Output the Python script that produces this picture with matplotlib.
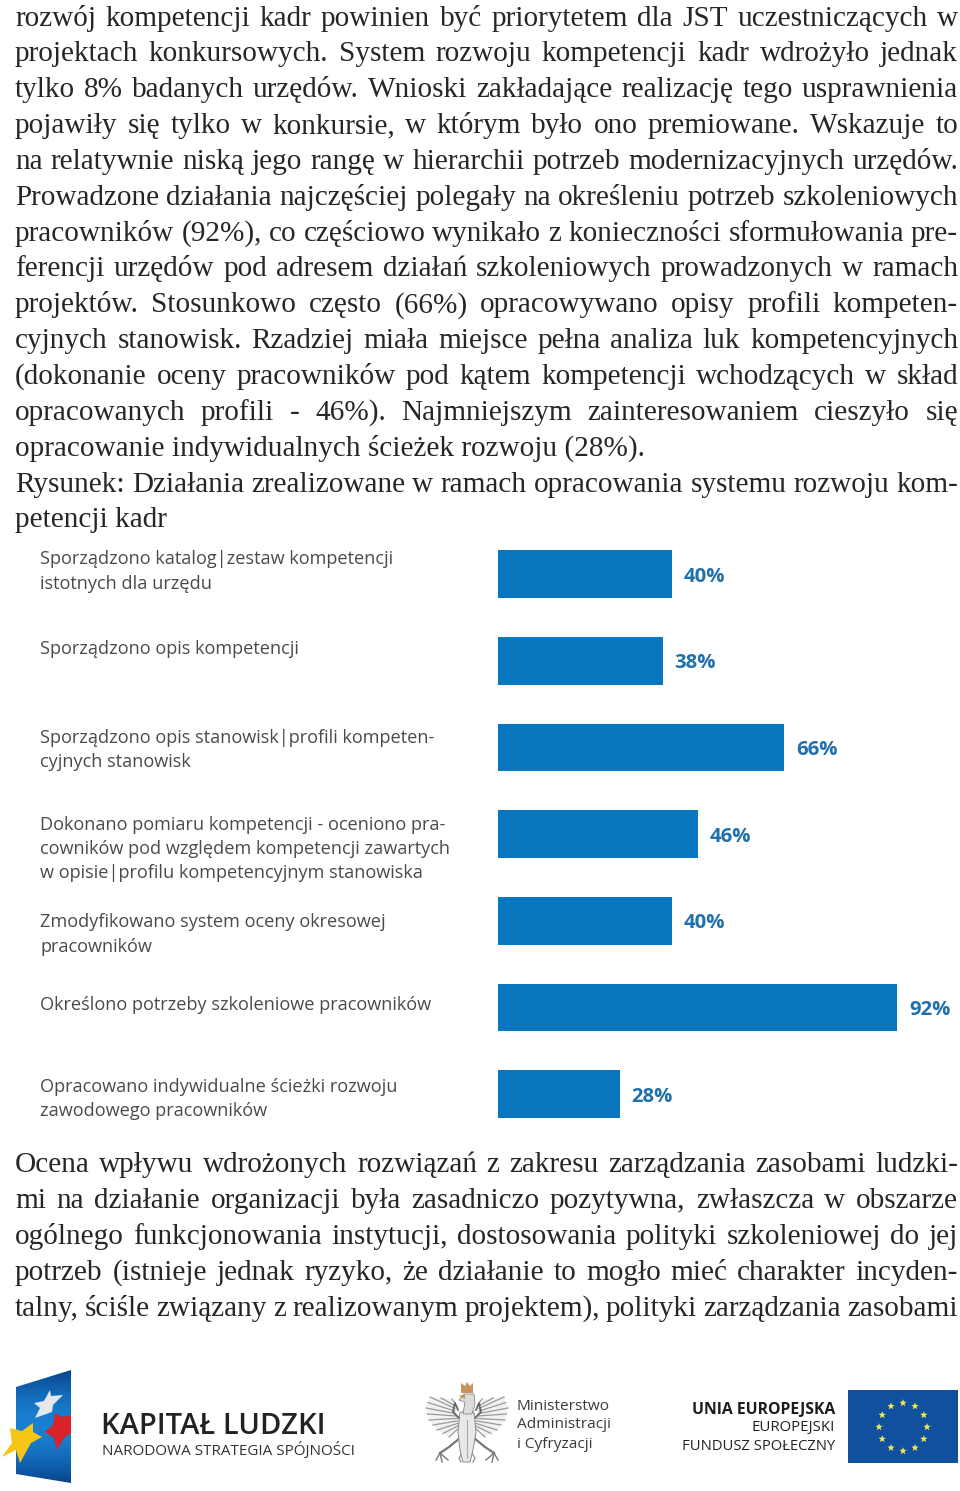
import numpy as np
import matplotlib
matplotlib.use("Agg")
import matplotlib.pyplot as plt
from matplotlib.font_manager import FontProperties
from matplotlib.patches import Polygon, Rectangle

W, H = 960, 1491
DPI = 100

# ---- chart data ----
values = [40, 38, 66, 46, 40, 92, 28]
value_labels = ["40%", "38%", "66%", "46%", "40%", "92%", "28%"]
category_lines = [
    ["Sporządzono katalog|zestaw kompetencji", "istotnych dla urzędu"],
    ["Sporządzono opis kompetencji"],
    ["Sporządzono opis stanowisk|profili kompeten-", "cyjnych stanowisk"],
    ["Dokonano pomiaru kompetencji - oceniono pra-",
     "cowników pod względem kompetencji zawartych",
     "w opisie|profilu kompetencyjnym stanowiska"],
    ["Zmodyfikowano system oceny okresowej", "pracowników"],
    ["Określono potrzeby szkoleniowe pracowników"],
    ["Opracowano indywidualne ścieżki rozwoju", "zawodowego pracowników"],
]
category_line_y = [[559, 584], [649], [738, 762], [825, 849, 873], [922, 947], [1005], [1087, 1111]]

# ---- body text: (line, justified) ----
top_text = [
    ("rozwój kompetencji kadr powinien być priorytetem dla JST uczestniczących w", True),
    ("projektach konkursowych. System rozwoju kompetencji kadr wdrożyło jednak", True),
    ("tylko 8% badanych urzędów. Wnioski zakładające realizację tego usprawnienia", True),
    ("pojawiły się tylko w konkursie, w którym było ono premiowane. Wskazuje to", True),
    ("na relatywnie niską jego rangę w hierarchii potrzeb modernizacyjnych urzędów.", True),
    ("Prowadzone działania najczęściej polegały na określeniu potrzeb szkoleniowych", True),
    ("pracowników (92%), co częściowo wynikało z konieczności sformułowania pre-", True),
    ("ferencji urzędów pod adresem działań szkoleniowych prowadzonych w ramach", True),
    ("projektów. Stosunkowo często (66%) opracowywano opisy profili kompeten-", True),
    ("cyjnych stanowisk. Rzadziej miała miejsce pełna analiza luk kompetencyjnych", True),
    ("(dokonanie oceny pracowników pod kątem kompetencji wchodzących w skład", True),
    ("opracowanych profili - 46%). Najmniejszym zainteresowaniem cieszyło się", True),
    ("opracowanie indywidualnych ścieżek rozwoju (28%).", False),
    ("Rysunek: Działania zrealizowane w ramach opracowania systemu rozwoju kom-", True),
    ("petencji kadr", False),
]
bottom_text = [
    ("Ocena wpływu wdrożonych rozwiązań z zakresu zarządzania zasobami ludzki-", True),
    ("mi na działanie organizacji była zasadniczo pozytywna, zwłaszcza w obszarze", True),
    ("ogólnego funkcjonowania instytucji, dostosowania polityki szkoleniowej do jej", True),
    ("potrzeb (istnieje jednak ryzyko, że działanie to mogło mieć charakter incyden-", True),
    ("talny, ściśle związany z realizowanym projektem), polityki zarządzania zasobami", True),
]

fig = plt.figure(figsize=(W / DPI, H / DPI), dpi=DPI, facecolor="white")
page = fig.add_axes([0, 0, 1, 1])
page.set_xlim(0, W)
page.set_ylim(H, 0)
page.axis("off")

renderer = fig.canvas.get_renderer()
body_fp = FontProperties(family="Liberation Serif", size=21.1)
BODY_C = "#262626"


def text_w(s):
    return renderer.get_text_width_height_descent(s, body_fp, False)[0]


def draw_line(s, y, justified, x0=15, x1=958):
    if not justified:
        page.text(x0, y, s, fontproperties=body_fp, color=BODY_C, va="baseline", ha="left")
        return
    words = s.split(" ")
    widths = [text_w(w) for w in words]
    gap = (x1 - x0 - sum(widths)) / (len(words) - 1)
    x = x0
    for w, wd in zip(words, widths):
        page.text(x, y, w, fontproperties=body_fp, color=BODY_C, va="baseline", ha="left")
        x += wd + gap


for i, (s, j) in enumerate(top_text):
    draw_line(s, 25.5 + i * 35.85, j)
for i, (s, j) in enumerate(bottom_text):
    draw_line(s, 1171.5 + i * 36, j)

# ---- bar chart ----
spacing = (1094 - 574) / 6
top = 574 - spacing / 2
bottom = 1094 + spacing / 2
ax = fig.add_axes([498 / W, 1 - bottom / H, 434 / W, (bottom - top) / H])
ax.set_xlim(0, 100)
ax.set_ylim(6.5, -0.5)
ax.axis("off")
ypos = np.arange(len(values))
ax.barh(ypos, values, height=0.55, color="#0877bf")
for y, v, lab in zip(ypos, values, value_labels):
    ax.text(v + 2.7, y + 0.03, lab, color="#1f70ad", fontsize=14.6, fontweight="bold",
            family="Open Sans", va="center", ha="left")

for lines, ys in zip(category_lines, category_line_y):
    for s, y in zip(lines, ys):
        page.text(40, y, s, family="Open Sans", fontsize=13.05, color="#4a4a4a",
                  va="center", ha="left")

# ---- Kapitał Ludzki logo ----
flag = Polygon([(16, 1387), (71, 1370), (71, 1483), (16, 1474)], closed=True, fc="none", ec="none")
page.add_patch(flag)
t = np.linspace(0, 1, 100)
c0, c1 = np.array([0.03, 0.27, 0.55]), np.array([0.10, 0.50, 0.82])
img = (c0 + (c1 - c0) * np.sin(t * np.pi)[:, None]).reshape(100, 1, 3)
im = page.imshow(img, extent=(16, 71, 1483, 1370), aspect="auto", zorder=1)
im.set_clip_path(flag)
page.set_xlim(0, W)
page.set_ylim(H, 0)

page.add_patch(Polygon([(50, 1390), (51, 1396), (63, 1395), (53, 1405), (52, 1412), (35, 1418),
                        (40, 1408), (34, 1403), (44, 1401)],
                       closed=True, fc="#e4e8ee", ec="none", zorder=3))
page.add_patch(Polygon([(55, 1413), (62, 1417), (71, 1415), (71, 1433), (64, 1438), (57, 1450),
                        (54, 1438), (45, 1432), (53, 1425)],
                       closed=True, fc="#d8232a", ec="none", zorder=3))
page.add_patch(Polygon([(10, 1428), (22, 1431), (33, 1423), (33, 1432), (42, 1437), (31, 1443),
                        (20, 1463), (16, 1450), (2, 1457), (12, 1443)],
                       closed=True, fc="#f6c515", ec="none", zorder=4))

page.text(101, 1426, "KAPITAŁ LUDZKI", family="Open Sans", fontweight="semibold",
          fontsize=21, color="#222222", va="center", ha="left")
page.text(102, 1450, "NARODOWA STRATEGIA SPÓJNOŚCI", family="Open Sans", fontsize=11,
          color="#333333", va="center", ha="left")

# ---- eagle (simple emblem drawing) ----
eagle_line = "#9a9a9a"
outer = np.array([(-15, 1399), (-37, 1397), (-41, 1408), (-38, 1420), (-30, 1430), (-18, 1437)], float)
inner = np.array([(-12, 1403), (-12, 1412), (-9, 1420), (-8, 1428)], float)
par_o = np.linspace(0, 1, len(outer))
par_i = np.linspace(0, 1, len(inner))
for side in (-1, 1):
    sx = lambda v: 467 - side * np.asarray(v)
    page.add_patch(Polygon(np.c_[sx(np.r_[outer[:, 0], inner[::-1, 0]]), np.r_[outer[:, 1], inner[::-1, 1]]],
                           closed=True, fc="#f2f2f2", ec="none", zorder=2))
    for u in np.linspace(0, 1, 11):
        xo, yo = np.interp(u, par_o, outer[:, 0]), np.interp(u, par_o, outer[:, 1])
        xi, yi = np.interp(u, par_i, inner[:, 0]), np.interp(u, par_i, inner[:, 1])
        page.plot(sx([xi, xo]), [yi, yo], color=eagle_line, lw=0.9, zorder=3)
    page.plot(sx([-6, -14, -12, -9]), [1420, 1412, 1403, 1410], color="#666666", lw=1.3, zorder=3)
    # leg and claws
    page.plot(sx([-7, -18, -27]), [1438, 1447, 1453], color="#777777", lw=1.6, zorder=3)
    for dx, dy in [(-4, 7), (2, 9), (8, 7)]:
        page.plot(sx([-27, -27 + dx]), [1453, 1453 + dy], color="#777777", lw=1.0, zorder=3)
    page.plot(sx([-3, -8, -6]), [1450, 1458, 1462], color="#999999", lw=1.0, zorder=3)
page.add_patch(Polygon([(460, 1412), (474, 1412), (476, 1432), (473, 1450), (470, 1462), (463, 1462), (460, 1450), (458, 1432)],
                       closed=True, fc="#e9e9e9", ec="#8a8a8a", lw=0.7, zorder=4))
page.plot([467, 467], [1420, 1458], color="#aaaaaa", lw=0.8, zorder=5)
page.add_patch(Polygon([(464, 1394), (474, 1394), (475, 1404), (472, 1414), (463, 1414), (465, 1402), (459, 1400)],
                       closed=True, fc="#dcdcdc", ec="#8a8a8a", lw=0.6, zorder=5))
page.add_patch(Polygon([(461, 1383), (465, 1386), (467, 1382), (470, 1386), (473, 1383), (473, 1393), (461, 1393)],
                       closed=True, fc="#c9955f", ec="none", zorder=6))
page.add_patch(Polygon([(459, 1396), (465, 1394), (465, 1399)], closed=True, fc="#c9955f", ec="none", zorder=6))

for s, y in zip(["Ministerstwo", "Administracji", "i Cyfryzacji"], [1406, 1425, 1444]):
    page.text(517, y, s, family="Open Sans", fontsize=11.1, color="#3a3a3a", va="center", ha="left")

# ---- EU logo ----
page.text(835, 1410, "UNIA EUROPEJSKA", family="Open Sans", fontweight="bold", fontsize=11.35,
          color="#1c1c1c", va="center", ha="right")
page.text(835, 1428, "EUROPEJSKI", family="Open Sans", fontsize=10.8, color="#222222",
          va="center", ha="right")
page.text(835, 1446, "FUNDUSZ SPOŁECZNY", family="Open Sans", fontsize=10.65, color="#222222",
          va="center", ha="right")
page.add_patch(Rectangle((848, 1390), 110, 73, fc="#10509f", ec="none", zorder=2))
for k in range(12):
    a = np.deg2rad(k * 30)
    cx, cy = 903 + 24 * np.sin(a), 1427 - 24 * np.cos(a)
    ang = np.deg2rad(-90 + np.arange(10) * 36)
    r = np.where(np.arange(10) % 2 == 0, 3.9, 1.6)
    page.add_patch(Polygon(np.c_[cx + r * np.cos(ang), cy + r * np.sin(ang)], closed=True,
                           fc="#f4ea4e", ec="none", zorder=3))

fig.savefig("out.png", dpi=DPI, facecolor="white")
